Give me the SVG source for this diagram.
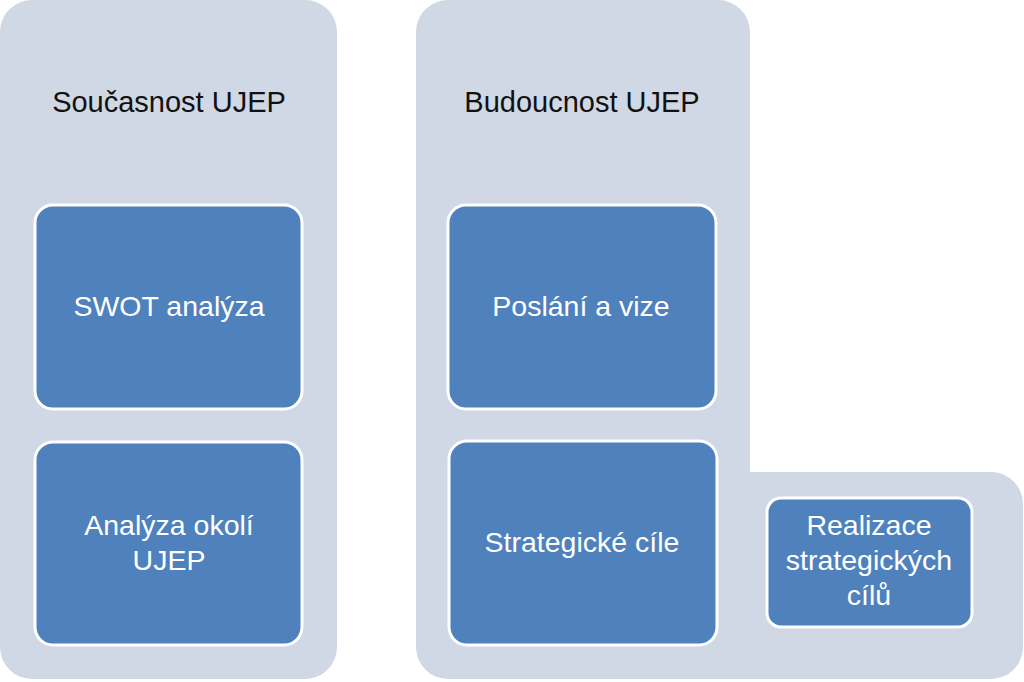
<svg xmlns="http://www.w3.org/2000/svg" width="1024" height="682" viewBox="0 0 1024 682">
<style>
.panel{fill:#D0D7E5;}
.box{fill:#4F81BD;stroke:#FFFFFF;stroke-width:3;}
.title{font-family:"Liberation Sans","Open Sans",sans-serif;font-size:29px;fill:#111111;text-anchor:middle;}
.lbl{font-family:"Liberation Sans","Open Sans",sans-serif;font-size:28.5px;fill:#FFFFFF;text-anchor:middle;}
</style>
<rect width="1024" height="682" fill="#FFFFFF"/>
<g id="panel-soucasnost">
<rect class="panel" x="0" y="0" width="337" height="679" rx="32"/>
<text class="title" x="169" y="112">Současnost UJEP</text>
</g>
<g id="panel-budoucnost">
<path class="panel" d="M448,0 H718 A32,32 0 0 1 750,32 V472 H992 A32,32 0 0 1 1023,504 V647 A32,32 0 0 1 991,679 H448 A32,32 0 0 1 416,647 V32 A32,32 0 0 1 448,0 Z"/>
<text class="title" x="582" y="112">Budoucnost UJEP</text>
</g>
<g id="node-swot">
<rect class="box" x="35" y="205" width="267" height="204" rx="18"/>
<text class="lbl" x="169" y="316">SWOT analýza</text>
</g>
<g id="node-okoli">
<rect class="box" x="35" y="442" width="267" height="203" rx="18"/>
<text class="lbl" x="169" y="535">Analýza okolí</text>
<text class="lbl" x="169" y="570">UJEP</text>
</g>
<g id="node-poslani">
<rect class="box" x="448" y="205" width="268" height="204" rx="18"/>
<text class="lbl" x="581" y="316">Poslání a vize</text>
</g>
<g id="node-cile">
<rect class="box" x="449" y="441" width="268" height="204" rx="18"/>
<text class="lbl" x="582" y="552">Strategické cíle</text>
</g>
<g id="node-realizace">
<rect class="box" x="767" y="498" width="205" height="129" rx="14"/>
<text class="lbl" x="869" y="535">Realizace</text>
<text class="lbl" x="869" y="570">strategických</text>
<text class="lbl" x="869" y="605">cílů</text>
</g>
<g id="connectors"></g>
</svg>
